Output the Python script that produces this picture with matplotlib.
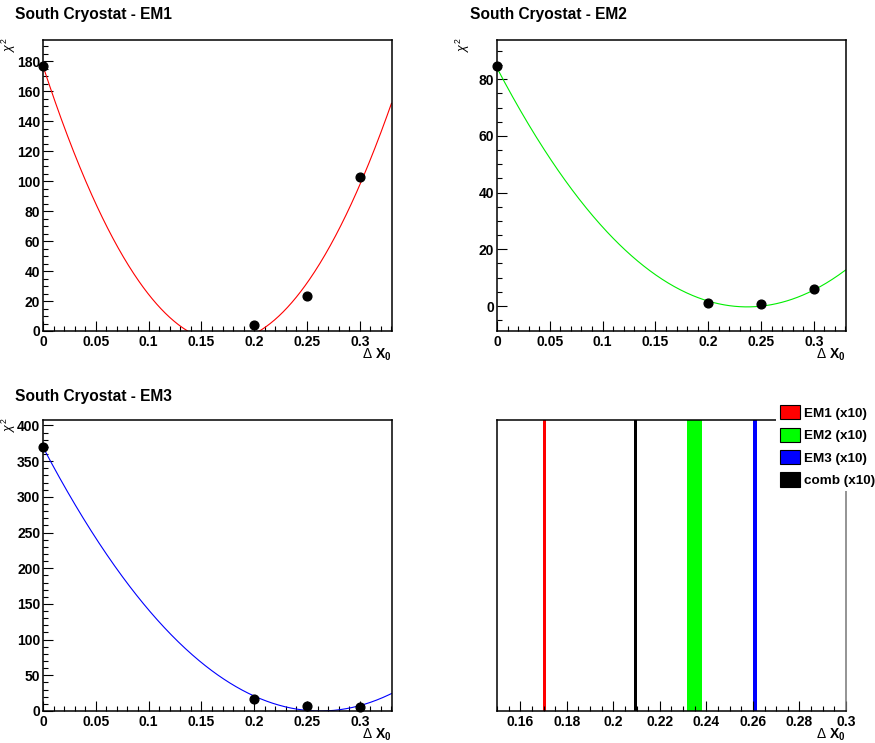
import numpy as np
import matplotlib
matplotlib.use("Agg")
import matplotlib.pyplot as plt
from matplotlib.ticker import MultipleLocator, FuncFormatter
from matplotlib.patches import Patch

plt.rcParams['font.family'] = ['Liberation Sans', 'DejaVu Sans']
plt.rcParams['mathtext.fontset'] = 'custom'
plt.rcParams['mathtext.rm'] = 'Liberation Sans'
plt.rcParams['mathtext.it'] = 'Liberation Sans:italic'
plt.rcParams['mathtext.bf'] = 'Liberation Sans:bold'

# ---- data ----
x_points = [0.0, 0.2, 0.25, 0.3]
chi2_em1 = [177.0, 4.0, 23.5, 103.0]
chi2_em2 = [84.6, 1.2, 0.6, 5.9]
chi2_em3 = [370.0, 16.4, 6.6, 5.6]

# parabola fit parameters: (x_min, curvature, chi2_min)
fit_em1 = (0.171, 6302.0, -7.3)
fit_em2 = (0.237, 1500.0, -0.3)
fit_em3 = (0.2625, 5365.0, 0.0)

titles = ["South Cryostat - EM1", "South Cryostat - EM2", "South Cryostat - EM3"]
fit_colors = ["#ff0000", "#00ee00", "#0000ff"]

# summary panel: fitted minima and (x10) error half-widths
summary_labels = ["EM1 (x10)", "EM2 (x10)", "EM3 (x10)", "comb (x10)"]
summary_centers = [0.1705, 0.2349, 0.2608, 0.2095]
summary_halfwidths = [0.0007, 0.0033, 0.0008, 0.0006]
summary_colors = ["#ff0000", "#00ff00", "#0000ff", "#000000"]

# ---- figure ----
W, H = 875, 743
fig = plt.figure(figsize=(W / 100, H / 100), dpi=100)

def ax_rect(l, t, r, b):
    return [l / W, 1 - b / H, (r - l) / W, (b - t) / H]

rects = [ax_rect(43, 40, 392, 331), ax_rect(497, 40, 846, 331),
         ax_rect(43, 420, 392, 711), ax_rect(497, 420, 846, 711)]

TICK_FS = 10

def xfmt(v, pos):
    return ('%.2f' % v).rstrip('0').rstrip('.')

def style_axes(ax, xmaj, xmin, ymaj=None, ymin=None):
    for s in ax.spines.values():
        s.set_linewidth(1.1)
    ax.xaxis.set_major_locator(MultipleLocator(xmaj))
    ax.xaxis.set_minor_locator(MultipleLocator(xmin))
    ax.xaxis.set_major_formatter(FuncFormatter(xfmt))
    ax.tick_params(axis='both', which='both', direction='in', top=False, right=False,
                   labelsize=TICK_FS, width=0.8)
    ax.tick_params(axis='both', which='major', length=7)
    ax.tick_params(axis='both', which='minor', length=3.6)
    ax.tick_params(axis='x', pad=3)
    ax.tick_params(axis='y', pad=2)
    if ymaj is not None:
        ax.yaxis.set_major_locator(MultipleLocator(ymaj))
        ax.yaxis.set_minor_locator(MultipleLocator(ymin))
    for lab in ax.get_xticklabels() + ax.get_yticklabels():
        lab.set_fontweight('bold')
    ax.text(1.0, -0.082, r'$\Delta$ $\mathbf{X_0}$', transform=ax.transAxes,
            ha='right', va='center', fontsize=10, fontweight='bold')

chi_data = [chi2_em1, chi2_em2, chi2_em3]
fits = [fit_em1, fit_em2, fit_em3]
ylims = [(0, 194.3), (-8.8, 93.8), (0, 407.7)]
ymajs = [(20, 5), (20, 5), (50, 10)]
title_pos = [(15, 14), (470, 14), (15, 397)]

for i in range(3):
    ax = fig.add_axes(rects[i])
    xs = np.linspace(0, 0.33, 400)
    x0, a, c = fits[i]
    ax.plot(xs, a * (xs - x0) ** 2 + c, color=fit_colors[i], lw=0.8, zorder=2)
    ax.plot(x_points, chi_data[i], 'o', color='black', ms=6.3, zorder=3, clip_on=False)
    ax.set_xlim(0, 0.3305)
    ax.set_ylim(*ylims[i])
    style_axes(ax, 0.05, 0.01, *ymajs[i])
    ax.text(-0.098, 1.01, r'$\chi^2$', transform=ax.transAxes, rotation=90,
            ha='center', va='top', fontsize=9)
    fig.text(title_pos[i][0] / W, 1 - title_pos[i][1] / H, titles[i],
             fontsize=11.2, fontweight='bold', ha='left', va='center')

# summary panel
ax = fig.add_axes(rects[3])
for cen, hw, col in zip(summary_centers, summary_halfwidths, summary_colors):
    ax.axvspan(cen - hw, cen + hw, color=col, lw=0)
ax.set_xlim(0.15, 0.3)
ax.set_ylim(0, 1)
style_axes(ax, 0.02, 0.005)
ax.set_yticks([])
ax.spines['right'].set_color('#777777')

handles = [Patch(facecolor=summary_colors[k], edgecolor='black', linewidth=0.8)
           for k in range(4)]
leg = fig.legend(handles, summary_labels, loc='upper left',
                 bbox_to_anchor=(776 / W, 1 - 401 / H), frameon=True,
                 prop={'weight': 'bold', 'size': 9.7},
                 handlelength=1.5, handleheight=1.25, handletextpad=0.3,
                 labelspacing=0.58, borderpad=0.3, borderaxespad=0)
leg.get_frame().set_facecolor('white')
leg.get_frame().set_edgecolor('none')
leg.get_frame().set_alpha(1)

fig.savefig("out.png", dpi=100)
